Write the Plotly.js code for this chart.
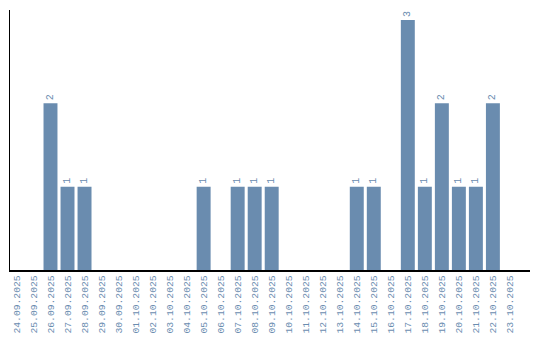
<!DOCTYPE html>
<html>
<head>
<meta charset="utf-8">
<script src="https://cdn.plot.ly/plotly-3.0.1.min.js"></script>
<style>html,body{margin:0;padding:0;background:#fff;}#chart{width:540px;height:340px;}</style>
</head>
<body>
<div id="chart"></div>
<script>
const dates = ["24.09.2025","25.09.2025","26.09.2025","27.09.2025","28.09.2025","29.09.2025","30.09.2025","01.10.2025","02.10.2025","03.10.2025","04.10.2025","05.10.2025","06.10.2025","07.10.2025","08.10.2025","09.10.2025","10.10.2025","11.10.2025","12.10.2025","13.10.2025","14.10.2025","15.10.2025","16.10.2025","17.10.2025","18.10.2025","19.10.2025","20.10.2025","21.10.2025","22.10.2025","23.10.2025"];
const counts = [0,0,2,1,1,0,0,0,0,0,0,1,0,1,1,1,0,0,0,0,1,1,0,3,1,2,1,1,2,0];

const labels = counts.map(v => v > 0 ? String(v) : "");

Plotly.newPlot("chart", [{
  type: "bar",
  x: dates,
  y: counts,
  text: labels,
  textposition: "outside",
  textangle: -90,
  cliponaxis: false,
  textfont: {family: "Liberation Mono", size: 10, color: "#6a8caf"},
  marker: {color: "#6a8caf"},
  hoverinfo: "none"
}], {
  width: 540, height: 340,
  margin: {l: 10, r: 10, t: 10, b: 70},
  paper_bgcolor: "#fff", plot_bgcolor: "#fff",
  bargap: 0.18,
  showlegend: false,
  xaxis: {
    type: "category",
    range: [-0.38, 30.18],
    showline: true, linecolor: "#000", linewidth: 1.5,
    ticks: "", tickangle: -90,
    tickfont: {family: "Liberation Mono", size: 9.7, color: "#6a8caf"},
    showgrid: false, zeroline: false
  },
  yaxis: {
    range: [0, 3.12],
    showline: true, linecolor: "#000", linewidth: 1.5,
    showticklabels: false, ticks: "",
    showgrid: false, zeroline: false
  }
}, {staticPlot: true});
</script>
</body>
</html>
